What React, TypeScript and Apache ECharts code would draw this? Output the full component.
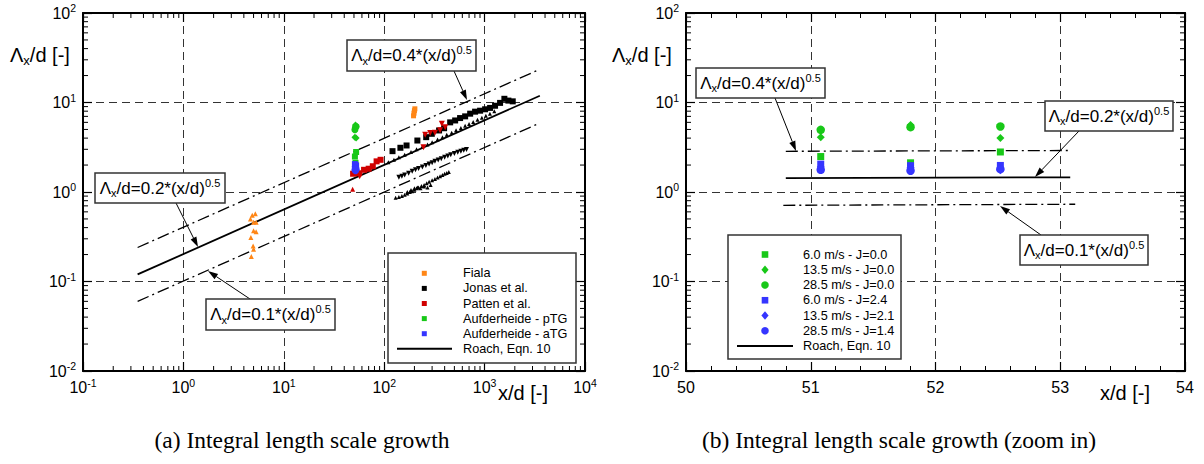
import React, { useEffect, useRef } from "react";
import * as echarts from "echarts";

const FONT = "Liberation Sans, Arial, Helvetica, sans-serif";
const SERIF = "Liberation Serif, Times New Roman, serif";

// ---------------- Left panel data: [x/d, Λx/d] ----------------
const fialaNear: number[][] = [
  [4.85, 0.55], [5.2, 0.57], [4.65, 0.5], [5.0, 0.46], [5.3, 0.46], [5.0, 0.37],
  [5.3, 0.36], [4.7, 0.31], [4.95, 0.25], [5.0, 0.23], [4.75, 0.19],
];
const fialaFar: number[][] = [[196, 7.1], [198, 7.6], [200, 8.1], [202, 8.5]];

const jonasSquares: number[][] = [
  [121, 2.86], [145, 3.12], [167, 3.31], [214, 3.76], [262, 4.1], [298, 4.47],
  [352, 4.87], [395, 5.16], [454, 6.0], [509, 6.3], [570, 6.7], [640, 7.0],
  [718, 7.5], [804, 7.9], [902, 8.1], [1012, 8.4], [1135, 8.7], [1271, 9.2],
  [1426, 9.9], [1574, 11.0], [1726, 10.5], [1907, 10.3],
];
const jonasUp: number[][] = [
  [110, 2.15], [125, 2.3], [140, 2.45], [160, 2.6], [185, 2.8], [210, 3.0],
  [240, 3.2], [270, 3.4], [300, 3.6], [340, 3.85], [380, 4.1], [420, 4.35],
  [470, 4.6], [520, 4.9], [580, 5.2], [640, 5.5], [700, 5.75], [770, 6.05],
  [850, 6.4], [940, 6.75], [1030, 7.1], [1130, 7.5], [1250, 8.0],
];
const jonasDown: number[][] = [
  [140, 1.46], [150, 1.5], [160, 1.55], [175, 1.62], [190, 1.7], [205, 1.77],
  [220, 1.83], [240, 1.9], [260, 1.98], [280, 2.05], [300, 2.12], [320, 2.2],
  [345, 2.28], [370, 2.35], [400, 2.45], [430, 2.52], [460, 2.6], [500, 2.7],
  [540, 2.78], [580, 2.85], [620, 2.92], [660, 2.98],
];
const jonasLow: number[][] = [
  [130, 0.86], [140, 0.88], [150, 0.9], [160, 0.93], [170, 0.96], [180, 1.0],
  [190, 1.02], [200, 1.06], [210, 1.1], [220, 1.12], [235, 1.17], [250, 1.2],
  [265, 1.25], [280, 1.3], [300, 1.35], [320, 1.4], [340, 1.45], [360, 1.5],
  [380, 1.55], [400, 1.6], [420, 1.63], [440, 1.67], [170, 1.0], [185, 1.05],
  [200, 1.1], [215, 1.12], [230, 1.1], [250, 1.15], [270, 1.12], [290, 1.2],
];
const pattenSquares: number[][] = [
  [49, 1.6], [56, 1.62], [63, 1.77], [70, 1.82], [77, 1.94], [84, 2.2], [92, 2.29],
];
const pattenDown: number[][] = [
  [57, 1.5], [246, 3.17], [256, 4.35], [287, 4.55], [320, 4.6], [360, 4.9],
  [375, 5.8], [405, 5.3],
];
const pattenUp: number[][] = [[48.5, 1.07]];

// Roach-type reference lines (end points)
const roachLeft: number[][] = [[0.35, 0.12], [3550, 11.9]];
const upperLeft: number[][] = [[0.35, 0.24], [3550, 23.5]];
const lowerLeft: number[][] = [[0.35, 0.06], [3550, 5.9]];

// ---------------- Aufderheide data (both panels) ----------------
const xPos = [51.08, 51.8, 52.52];
const pTG6 = [2.49, 2.12, 2.8];
const pTG13 = [4.1, 5.6, 4.0];
const pTG28 = [4.95, 5.3, 5.4];
const aTG6 = [2.05, 1.97, 1.98];
const aTG13 = [1.9, 1.88, 1.75];
const aTG28 = [1.77, 1.73, 1.8];

const roachRight: number[][] = [[50.8, 1.43], [53.08, 1.46]];
const upperRight: number[][] = [[50.8, 2.85], [53.08, 2.91]];
const lowerRight: number[][] = [[50.78, 0.71], [53.12, 0.73]];

// ---------------- Texts ----------------
const legendLeftNames = ["Fiala", "Jonas et al.", "Patten et al.", "Aufderheide - pTG", "Aufderheide - aTG", "Roach, Eqn. 10"];
const legendRightNames = [
  "6.0 m/s - J=0.0", "13.5 m/s - J=0.0", "28.5 m/s - J=0.0",
  "6.0 m/s - J=2.4", "13.5 m/s - J=2.1", "28.5 m/s - J=1.4", "Roach, Eqn. 10",
];
const captionA = "(a) Integral length scale growth";
const captionB = "(b) Integral length scale growth (zoom in)";

const ORANGE = "#ff8616";
const BLACK = "#000000";
const RED = "#d00000";
const GREEN = "#18c818";
const BLUE = "#3535ff";

const zip = (xs: number[], ys: number[]) => xs.map((x, i) => [x, ys[i]]);

const minorVals = (lo: number, hi: number) => {
  const out: number[] = [];
  for (let e = lo; e < hi; e++) for (let m = 2; m <= 9; m++) out.push(m * Math.pow(10, e));
  return out;
};

const expRich = {
  b: { fontSize: 16, fontFamily: FONT, color: "#000" },
  s: { fontSize: 10.5, fontFamily: FONT, color: "#000", padding: [0, 0, 10, 0] },
};
const expLabel = (v: number) => `{b|10}{s|${Math.round(Math.log10(v))}}`;

const axisLine = { show: true, onZero: false, lineStyle: { color: "#000", width: 2 } };
const tick = { show: true, inside: true, length: 9, lineStyle: { color: "#000", width: 1.2 } };
const gridDash = { show: true, lineStyle: { color: "#333", width: 1, type: [8, 5] } };

function minorTickSeries(xIdx: number, yIdx: number, vals: number[], dir: "x" | "y", lo: number, hi: number) {
  const data = vals.map((v) => (dir === "x" ? [v, lo] : [lo, v]));
  return {
    type: "custom",
    xAxisIndex: xIdx,
    yAxisIndex: yIdx,
    silent: true,
    clip: false,
    z: 6,
    data,
    renderItem: (_p: any, api: any) => {
      const st = { stroke: "#000", lineWidth: 1 };
      if (dir === "x") {
        const v = api.value(0);
        const a = api.coord([v, lo]);
        const b = api.coord([v, hi]);
        return {
          type: "group",
          children: [
            { type: "line", shape: { x1: a[0], y1: a[1], x2: a[0], y2: a[1] - 5 }, style: st },
            { type: "line", shape: { x1: b[0], y1: b[1], x2: b[0], y2: b[1] + 5 }, style: st },
          ],
        };
      }
      const v = api.value(1);
      const a = api.coord([lo, v]);
      const b = api.coord([hi, v]);
      return {
        type: "group",
        children: [
          { type: "line", shape: { x1: a[0], y1: a[1], x2: a[0] + 5, y2: a[1] }, style: st },
          { type: "line", shape: { x1: b[0], y1: b[1], x2: b[0] - 5, y2: b[1] }, style: st },
        ],
      };
    },
  };
}

function lineSeries(xIdx: number, data: number[][], dashed: boolean) {
  return {
    type: "line",
    xAxisIndex: xIdx,
    yAxisIndex: xIdx,
    data,
    symbol: "none",
    silent: true,
    z: 3,
    lineStyle: dashed
      ? { color: "#000", width: 1.3, type: [12, 4, 2, 4] }
      : { color: "#000", width: 1.8 },
  };
}

function scatter(xIdx: number, data: number[][], symbol: string, size: number, color: string, rotate = 0) {
  return {
    type: "scatter",
    xAxisIndex: xIdx,
    yAxisIndex: xIdx,
    data,
    symbol,
    symbolSize: size,
    symbolRotate: rotate,
    silent: true,
    z: 4,
    itemStyle: { color, opacity: 1 },
  };
}

function arrow(x1: number, y1: number, x2: number, y2: number) {
  const dx = x2 - x1, dy = y2 - y1;
  const L = Math.hypot(dx, dy);
  const ux = dx / L, uy = dy / L;
  const hl = 10, hw = 3.2;
  const bx = x2 - ux * hl, by = y2 - uy * hl;
  return [
    { type: "line", z: 100, shape: { x1, y1, x2: bx, y2: by }, style: { stroke: "#000", lineWidth: 1 } },
    {
      type: "polygon", z: 100,
      shape: { points: [[x2, y2], [bx - uy * hw, by + ux * hw], [bx + uy * hw, by - ux * hw]] },
      style: { fill: "#000" },
    },
  ];
}

function annot(x: number, y: number, w: number, h: number, coef: string, ax: number, ay: number, tx: number, ty: number) {
  return [
    ...arrow(ax, ay, tx, ty),
    { type: "rect", z: 100, shape: { x, y, width: w, height: h }, style: { fill: "#fff", stroke: "#333", lineWidth: 1.5 } },
    {
      type: "text", z: 101, x: x + w / 2, y: y + h / 2,
      style: {
        text: `{t|Λ}{s|x}{t|/d=${coef}*(x/d)}{p|0.5}`,
        align: "center", verticalAlign: "middle", textAlign: "center", textVerticalAlign: "middle",
        fill: "#000",
        rich: {
          t: { fontSize: 17, fontFamily: FONT, fill: "#000" },
          s: { fontSize: 11, fontFamily: FONT, fill: "#000", padding: [10, 0, 0, 0] },
          p: { fontSize: 11, fontFamily: FONT, fill: "#000", padding: [0, 0, 11, 0] },
        },
      },
    },
  ];
}

function lambdaTitle(x: number, y: number) {
  return {
    type: "text", z: 100, x, y,
    style: {
      text: "{a|Λ}{b|x}{a|/d [-]}",
      verticalAlign: "middle", textVerticalAlign: "middle", fill: "#000",
      rich: {
        a: { fontSize: 20, fontFamily: FONT, fill: "#000" },
        b: { fontSize: 13, fontFamily: FONT, fill: "#000", padding: [11, 0, 0, 0] },
      },
    },
  };
}

function plainText(x: number, y: number, text: string, size: number, family = FONT, align = "left") {
  return {
    type: "text", z: 100, x, y,
    style: {
      text, fill: "#000", fontSize: size, fontFamily: family,
      align, textAlign: align, verticalAlign: "middle", textVerticalAlign: "middle",
    },
  };
}

function buildGraphic() {
  const els: any[] = [];
  // annotations
  els.push(...annot(347, 40, 129, 31, "0.4", 454, 71, 467, 100));
  els.push(...annot(95, 173, 130, 30, "0.2", 176, 203, 198, 247));
  els.push(...annot(206, 299, 129, 31, "0.1", 250, 299, 208, 271));
  els.push(...annot(696, 68, 129, 30, "0.4", 775, 98, 796, 151));
  els.push(...annot(1045, 101, 128, 30, "0.2", 1079, 131, 1035, 177));
  els.push(...annot(1020, 235, 128, 30, "0.1", 1041, 235, 1000, 206));

  // left legend
  els.push({ type: "rect", z: 100, shape: { x: 388, y: 253, width: 188, height: 110 }, style: { fill: "#fff", stroke: "#333", lineWidth: 1.5 } });
  const leftColors = [ORANGE, BLACK, RED, GREEN, BLUE];
  const ly0 = 273.3, lstep = 15.1;
  legendLeftNames.forEach((name, i) => {
    const y = ly0 + i * lstep;
    if (i < 5) {
      els.push({ type: "rect", z: 101, shape: { x: 421.8, y: y - 2.5, width: 5, height: 5 }, style: { fill: leftColors[i] } });
    } else {
      els.push({ type: "line", z: 101, shape: { x1: 397, y1: y, x2: 452, y2: y }, style: { stroke: "#000", lineWidth: 2 } });
    }
    els.push(plainText(463, y, name, 12.7));
  });

  // right legend
  els.push({ type: "rect", z: 100, shape: { x: 728, y: 235, width: 173, height: 124 }, style: { fill: "#fff", stroke: "#333", lineWidth: 1.5 } });
  const ry0 = 254.5, rstep = 15.25;
  const mx = 765;
  legendRightNames.forEach((name, i) => {
    const y = ry0 + i * rstep;
    const c = i < 3 ? GREEN : BLUE;
    const k = i % 3;
    if (i < 6) {
      if (k === 0) els.push({ type: "rect", z: 101, shape: { x: mx - 3.3, y: y - 3.3, width: 6.6, height: 6.6 }, style: { fill: c } });
      if (k === 1) els.push({ type: "polygon", z: 101, shape: { points: [[mx, y - 4.2], [mx + 3.6, y], [mx, y + 4.2], [mx - 3.6, y]] }, style: { fill: c } });
      if (k === 2) els.push({ type: "circle", z: 101, shape: { cx: mx, cy: y, r: 3.8 }, style: { fill: c } });
    } else {
      els.push({ type: "line", z: 101, shape: { x1: 737, y1: y, x2: 793, y2: y }, style: { stroke: "#000", lineWidth: 2 } });
    }
    els.push(plainText(803, y, name, 12.7));
  });

  // axis titles
  els.push(lambdaTitle(10, 55));
  els.push(lambdaTitle(612, 55));
  els.push(plainText(498, 393, "x/d [-]", 20));
  els.push(plainText(1100, 393, "x/d [-]", 20));

  // captions
  els.push(plainText(302, 440, captionA, 23.5, SERIF, "center"));
  els.push(plainText(899, 440, captionB, 23.5, SERIF, "center"));
  return els;
}

function buildOption() {
  const logX = (gridIndex: number, position: string, labels: boolean) => ({
    type: "log", logBase: 10, gridIndex, position, min: 0.1, max: 10000,
    axisLine, axisTick: tick,
    splitLine: labels ? gridDash : { show: false },
    axisLabel: labels ? { show: true, formatter: expLabel, rich: expRich, margin: 6 } : { show: false },
  });
  const logY = (gridIndex: number, position: string, labels: boolean) => ({
    type: "log", logBase: 10, gridIndex, position, min: 0.01, max: 100,
    axisLine, axisTick: tick,
    splitLine: labels ? gridDash : { show: false },
    axisLabel: labels ? { show: true, formatter: expLabel, rich: expRich, margin: 7 } : { show: false },
  });
  const valX = (position: string, labels: boolean) => ({
    type: "value", gridIndex: 1, position, min: 50, max: 54, interval: 1,
    axisLine, axisTick: tick,
    minorTick: { show: true, splitNumber: 5, length: 5, lineStyle: { color: "#000", width: 1 } },
    splitLine: labels ? gridDash : { show: false },
    axisLabel: labels
      ? { show: true, fontSize: 16, fontFamily: FONT, color: "#000", margin: 8 }
      : { show: false },
  });

  const series: any[] = [
    // left reference lines
    lineSeries(0, upperLeft, true),
    lineSeries(0, roachLeft, false),
    lineSeries(0, lowerLeft, true),
    // left scatter
    scatter(0, fialaNear, "triangle", 5, ORANGE),
    scatter(0, fialaFar, "rect", 5, ORANGE),
    scatter(0, jonasLow, "triangle", 4, BLACK),
    scatter(0, jonasDown, "triangle", 5, BLACK, 180),
    scatter(0, jonasUp, "triangle", 4, BLACK),
    scatter(0, jonasSquares, "rect", 6, BLACK),
    scatter(0, pattenSquares, "rect", 6, RED),
    scatter(0, pattenDown, "triangle", 6, RED, 180),
    scatter(0, pattenUp, "triangle", 5, RED),
    scatter(0, zip(xPos, pTG6), "rect", 6, GREEN),
    scatter(0, zip(xPos, pTG13), "diamond", 7, GREEN),
    scatter(0, zip(xPos, pTG28), "circle", 7, GREEN),
    scatter(0, zip(xPos, aTG6), "rect", 6, BLUE),
    scatter(0, zip(xPos, aTG13), "diamond", 7, BLUE),
    scatter(0, zip(xPos, aTG28), "circle", 7, BLUE),
    // right reference lines
    lineSeries(2, upperRight, true),
    lineSeries(2, roachRight, false),
    lineSeries(2, lowerRight, true),
    // right scatter
    scatter(2, zip(xPos, pTG6), "rect", 7, GREEN),
    scatter(2, zip(xPos, pTG13), "diamond", 8, GREEN),
    scatter(2, zip(xPos, pTG28), "circle", 8.5, GREEN),
    scatter(2, zip(xPos, aTG6), "rect", 7, BLUE),
    scatter(2, zip(xPos, aTG13), "diamond", 8, BLUE),
    scatter(2, zip(xPos, aTG28), "circle", 8.5, BLUE),
    // minor ticks on log axes
    minorTickSeries(0, 0, minorVals(-1, 4), "x", 0.01, 100),
    minorTickSeries(0, 0, minorVals(-2, 2), "y", 0.1, 10000),
    minorTickSeries(2, 2, minorVals(-2, 2), "y", 50, 54),
  ];

  return {
    animation: false,
    backgroundColor: "#ffffff",
    grid: [
      { left: 83, top: 13, width: 502, height: 358 },
      { left: 686, top: 13, width: 499, height: 358 },
    ],
    xAxis: [
      logX(0, "bottom", true),
      logX(0, "top", false),
      valX("bottom", true),
      valX("top", false),
    ],
    yAxis: [
      logY(0, "left", true),
      logY(0, "right", false),
      logY(1, "left", true),
      logY(1, "right", false),
    ],
    series,
    graphic: buildGraphic(),
  };
}

export default function App() {
  const ref = useRef<HTMLDivElement>(null);
  useEffect(() => {
    if (!ref.current) return;
    const chart = echarts.init(ref.current, undefined, { renderer: "svg" });
    chart.setOption(buildOption() as any);
    return () => chart.dispose();
  }, []);
  return (
    <div
      ref={ref}
      style={{ position: "absolute", left: 0, top: 0, width: 1204, height: 464, background: "#fff" }}
    />
  );
}
